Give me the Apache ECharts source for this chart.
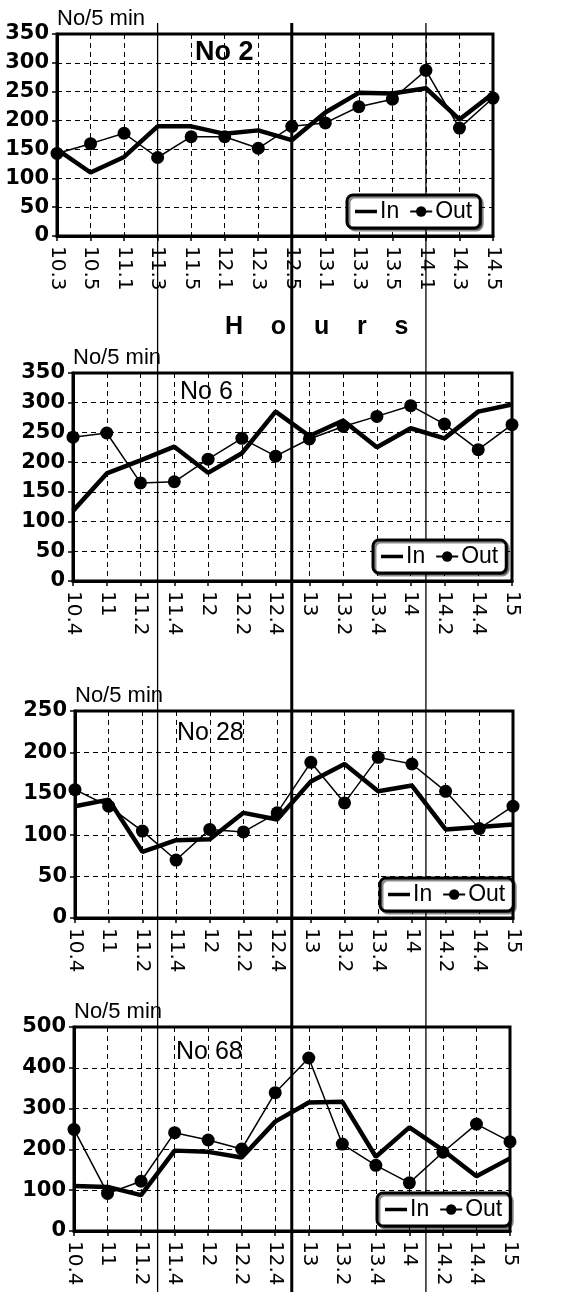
<!DOCTYPE html>
<html>
<head>
<meta charset="utf-8">
<title>No/5 min</title>
<script src="https://cdn.jsdelivr.net/npm/echarts@6/dist/echarts.min.js"></script>
<style>
html, body { margin: 0; padding: 0; background: #fff; }
#container { width: 562px; height: 1297px; }
</style>
</head>
<body>
<div id="container"></div>
<script>
// categories (time of day)
var cats2 = ['10.3', '10.5', '11.1', '11.3', '11.5', '12.1', '12.3', '12.5', '13.1', '13.3', '13.5', '14.1', '14.3', '14.5'];
var catsB = ['10.4', '11', '11.2', '11.4', '12', '12.2', '12.4', '13', '13.2', '13.4', '14', '14.2', '14.4', '15'];

// No 2
var in2 = [150, 110, 137, 190, 190, 177, 183, 166, 214, 248, 247, 256, 202, 247];
var out2 = [143, 160, 178, 136, 172, 172, 152, 190, 196, 224, 237, 287, 187, 239];
// No 6
var in6 = [118, 181, 203, 226, 182, 215, 285, 244, 270, 225, 257, 240, 285, 297];
var out6 = [242, 249, 165, 167, 205, 240, 210, 239, 260, 277, 295, 264, 221, 263];
// No 28
var in28 = [135, 143, 80, 94, 95, 127, 119, 165, 186, 153, 160, 107, 110, 113];
var out28 = [155, 135, 105, 70, 107, 104, 127, 188, 139, 194, 186, 153, 108, 135];
// No 68
var in68 = [110, 108, 88, 197, 194, 180, 268, 315, 317, 182, 254, 198, 134, 178];
var out68 = [249, 92, 122, 241, 223, 201, 339, 424, 213, 161, 118, 193, 262, 219];

var yMax = [350, 350, 250, 500];
var yStep = [50, 50, 50, 100];
var panelNames = ['No 2', 'No 6', 'No 28', 'No 68'];
var refCats = ['11.3', '12.5', '14.1'];

var dom = document.getElementById('container');
var myChart = echarts.init(dom);

var grids = [
    { left: 57, top: 34, width: 436, height: 202 },
    { left: 73, top: 373, width: 439, height: 208 },
    { left: 75, top: 711, width: 438, height: 207 },
    { left: 74, top: 1027, width: 436, height: 204 }
];
var legendPos = [
    { left: 347, top: 195 },
    { left: 373, top: 540 },
    { left: 380, top: 878 },
    { left: 377, top: 1193 }
];
var titlePos = [
    { left: 195, top: 39, size: 27, weight: 'bold' },
    { left: 180, top: 380, size: 25, weight: 'normal' },
    { left: 177, top: 721, size: 25, weight: 'normal' },
    { left: 176, top: 1040, size: 25, weight: 'normal' }
];
var inData = [in2, in6, in28, in68];
var outData = [out2, out6, out28, out68];
var catData = [cats2, catsB, catsB, catsB];

var dash = { type: [5, 4], color: '#000', width: 1 };

var xAxes = [], yAxes = [], series = [], legends = [], titles = [];
for (var i = 0; i < 4; i++) {
    grids[i].show = true;
    grids[i].borderColor = '#000';
    grids[i].borderWidth = 3;
    grids[i].backgroundColor = '#fff';
    xAxes.push({
        type: 'category',
        gridIndex: i,
        data: catData[i],
        boundaryGap: false,
        axisLine: { lineStyle: { color: '#000', width: 3 } },
        axisTick: { length: 5, lineStyle: { color: '#000', width: 1.5 } },
        axisLabel: { rotate: -90, interval: 0, margin: 10, fontSize: 20, fontFamily: 'DejaVu Sans', color: '#000' },
        splitLine: { show: true, interval: 0, lineStyle: dash }
    });
    yAxes.push({
        type: 'value',
        gridIndex: i,
        min: 0,
        max: yMax[i],
        interval: yStep[i],
        name: 'No/5 min',
        nameLocation: 'end',
        nameGap: 4,
        nameTextStyle: { align: 'left', fontSize: 22, fontFamily: 'Liberation Sans, Arial', color: '#000' },
        axisLine: { show: true, lineStyle: { color: '#000', width: 3 } },
        axisTick: { show: true, length: 5, lineStyle: { color: '#000', width: 1.5 } },
        axisLabel: { margin: 8, fontSize: 21, fontWeight: 'bold', fontFamily: 'DejaVu Sans', color: '#000' },
        splitLine: { show: true, lineStyle: dash }
    });
    series.push({
        name: 'In',
        type: 'line',
        xAxisIndex: i,
        yAxisIndex: i,
        data: inData[i],
        showSymbol: false,
        symbol: 'none',
        lineStyle: { color: '#000', width: 4.5 },
        itemStyle: { color: '#000' },
        z: 3
    });
    series.push({
        name: 'Out',
        type: 'line',
        xAxisIndex: i,
        yAxisIndex: i,
        data: outData[i],
        symbol: 'circle',
        symbolSize: 13,
        lineStyle: { color: '#000', width: 1.5 },
        itemStyle: { color: '#000' },
        z: 4
    });
    legends.push({
        left: legendPos[i].left,
        top: legendPos[i].top,
        data: [
            { name: 'In', icon: 'path://M0,0H22V3.5H0Z' },
            { name: 'Out' }
        ],
        orient: 'horizontal',
        itemWidth: 22,
        itemHeight: 13,
        itemGap: 10,
        padding: [5, 8],
        backgroundColor: '#fff',
        borderColor: '#000',
        borderWidth: 3,
        borderRadius: 6,
        shadowColor: 'rgba(0,0,0,0.45)',
        shadowOffsetX: 2,
        shadowOffsetY: 2,
        shadowBlur: 0,
        selectedMode: false,
        textStyle: { fontSize: 23, fontFamily: 'Liberation Sans, Arial', color: '#000', padding: [0, 0, 0, -2] },
        z: 6
    });
    titles.push({
        text: panelNames[i],
        left: titlePos[i].left,
        top: titlePos[i].top,
        padding: 0,
        textStyle: { fontSize: titlePos[i].size, fontWeight: titlePos[i].weight, fontFamily: 'Liberation Sans, Arial', color: '#000' },
        z: 5
    });
}
titles.push({
    text: 'H    o    u    r    s',
    left: 225,
    top: 315,
    padding: 0,
    textStyle: { fontSize: 25, fontWeight: 'bold', fontFamily: 'Liberation Sans, Arial', color: '#000' }
});

var option = {
    backgroundColor: '#fff',
    animation: false,
    title: titles,
    legend: legends,
    grid: grids,
    xAxis: xAxes,
    yAxis: yAxes,
    series: series
};
myChart.setOption(option, true);

// vertical reference lines running through all panels
var marks = [];
for (var k = 0; k < refCats.length; k++) {
    var px = myChart.convertToPixel({ xAxisIndex: 0 }, refCats[k]);
    marks.push({
        type: 'line',
        z: 5,
        shape: { x1: px, y1: 23, x2: px, y2: 1292 },
        style: { stroke: '#000', lineWidth: k == 1 ? 3 : 1.3 }
    });
}
myChart.setOption({ graphic: marks });
</script>
</body>
</html>
